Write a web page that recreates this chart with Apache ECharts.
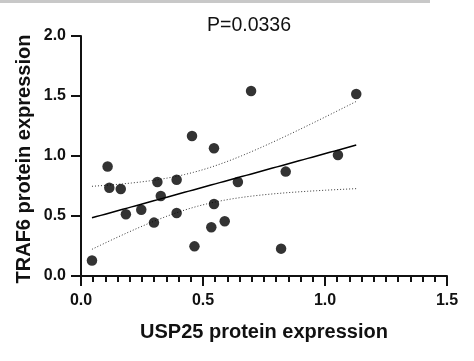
<!DOCTYPE html>
<html><head><meta charset="utf-8">
<script src="https://cdn.jsdelivr.net/npm/echarts@6/dist/echarts.min.js"></script>
<style>html,body{margin:0;padding:0;background:#fff}#c{width:474px;height:361px}</style>
</head><body><div id="c"></div>
<script>
const usp25 = [0.045,0.109,0.116,0.163,0.184,0.247,0.299,0.313,0.327,0.392,0.392,0.455,0.465,0.534,0.545,0.545,0.589,0.643,0.697,0.820,0.839,1.053,1.128];
const traf6 = [0.129,0.912,0.736,0.725,0.514,0.552,0.445,0.783,0.667,0.802,0.525,1.166,0.247,0.406,1.064,0.600,0.456,0.783,1.541,0.228,0.870,1.009,1.517];
const xTicks = [0.0,0.5,1.0,1.5];
const yTicks = [0.0,0.5,1.0,1.5,2.0];
const titleText = 'P=0.0336';
const xName = 'USP25 protein expression';
const yName = 'TRAF6 protein expression';

// linear regression with 95% confidence band
const n = usp25.length;
const mx = usp25.reduce((a,b)=>a+b,0)/n;
const my = traf6.reduce((a,b)=>a+b,0)/n;
let sxx=0,sxy=0;
for(let i=0;i<n;i++){sxx+=(usp25[i]-mx)**2;sxy+=(usp25[i]-mx)*(traf6[i]-my);}
const slope=sxy/sxx, icpt=my-slope*mx;
let sse=0;for(let i=0;i<n;i++){sse+=(traf6[i]-icpt-slope*usp25[i])**2;}
const s=Math.sqrt(sse/(n-2));
const tcrit=2.080;
const xmin=Math.min(...usp25), xmax=Math.max(...usp25);
const fit=[],up=[],lo=[];
for(let k=0;k<=60;k++){
  const x=xmin+(xmax-xmin)*k/60;
  const y=icpt+slope*x;
  const h=tcrit*s*Math.sqrt(1/n+(x-mx)**2/sxx);
  fit.push([x,y]);up.push([x,y+h]);lo.push([x,y-h]);
}
const pts=usp25.map((x,i)=>[x,traf6[i]]);
const F='"Liberation Sans", Arial, sans-serif';
const nameStyle={fontFamily:F,fontWeight:'bold',fontSize:20,fill:'#111',align:'center',verticalAlign:'middle'};
const tickStyle={show:true,length:10,lineStyle:{color:'#111',width:2}};
const chart=echarts.init(document.getElementById('c'));
chart.setOption({
  animation:false,
  graphic:[
    {type:'rect',shape:{x:0,y:0,width:430,height:3},style:{fill:'#c8c8c8'},silent:true},
    {type:'text',x:264,y:332,style:Object.assign({text:xName},nameStyle),silent:true},
    {type:'text',x:24,y:159,rotation:Math.PI/2,style:Object.assign({text:yName},nameStyle),silent:true}
  ],
  title:{text:titleText,left:244,top:11,textAlign:'center',textStyle:{fontFamily:F,fontWeight:'normal',fontSize:19.5,color:'#111'}},
  grid:{left:81,right:27,top:36,bottom:85},
  xAxis:[
    {type:'value',min:0,max:1.5,interval:0.5,position:'bottom',
      axisLine:{show:true,onZero:false,lineStyle:{color:'#111',width:2}},
      axisTick:tickStyle,
      minorTick:{show:true,splitNumber:10,length:6,lineStyle:{color:'#111',width:2}},
      axisLabel:{fontFamily:F,fontWeight:'bold',fontSize:16,color:'#111',margin:17,formatter:v=>xTicks.includes(v)?v.toFixed(1):''},
      splitLine:{show:false}},
    {type:'value',min:0,max:1.5,interval:0.5,position:'bottom',offset:0,
      axisLine:{show:false,onZero:false},
      axisTick:tickStyle,
      minorTick:{show:true,splitNumber:10,length:6,lineStyle:{color:'#111',width:2}},
      axisLabel:{show:false},splitLine:{show:false}}
  ],
  yAxis:[
    {type:'value',min:0,max:2,interval:0.5,position:'left',
      axisLine:{show:true,onZero:false,lineStyle:{color:'#111',width:2}},
      axisTick:tickStyle,
      axisLabel:{fontFamily:F,fontWeight:'bold',fontSize:16,color:'#111',margin:15,formatter:v=>yTicks.includes(v)?v.toFixed(1):''},
      splitLine:{show:false}},
    {type:'value',min:0,max:2,interval:0.5,position:'left',offset:0,
      axisLine:{show:false,onZero:false},
      axisTick:tickStyle,
      axisLabel:{show:false},splitLine:{show:false}}
  ],
  series:[
    {type:'line',data:up,showSymbol:false,lineStyle:{color:'#333',width:1,type:[1,2]},z:1},
    {type:'line',data:lo,showSymbol:false,lineStyle:{color:'#333',width:1,type:[1,2]},z:1},
    {type:'line',data:fit,showSymbol:false,lineStyle:{color:'#000',width:1.5},z:2},
    {type:'scatter',data:pts,symbolSize:10.5,itemStyle:{color:'#000'},z:3}
  ]
});
</script></body></html>
